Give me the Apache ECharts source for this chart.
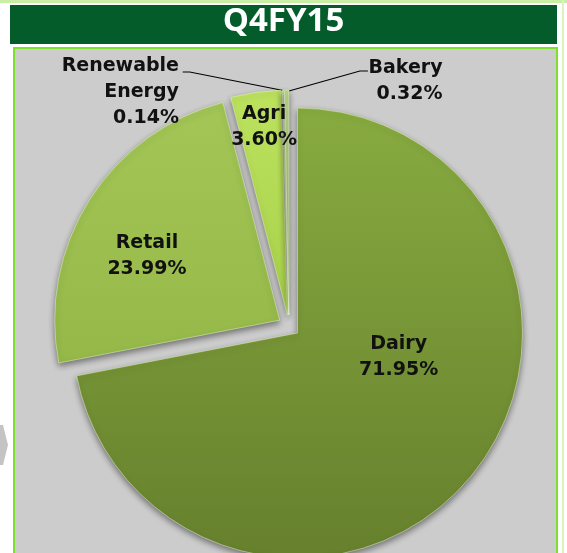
<!DOCTYPE html>
<html>
<head>
<meta charset="utf-8">
<script src="https://cdn.jsdelivr.net/npm/echarts@6/dist/echarts.min.js"></script>
<style>
  html, body { margin: 0; padding: 0; background: #ffffff; }
  #main { width: 567px; height: 553px; }
</style>
</head>
<body>
<div id="main"></div>
<script>
// segment shares, Q4FY15 (%)
const segments = ['Dairy', 'Retail', 'Agri', 'Renewable\nEnergy', 'Bakery']
const shares = [71.95, 23.99, 3.60, 0.14, 0.32]
const titleText = 'Q4FY15'

// slice colours (top -> bottom of gradient)
const sliceColors = [
  ['#88ab40', '#66802d'],
  ['#a3c656', '#95b849'],
  ['#bde35e', '#a8d04a'],
  ['#c4d8a0', '#9ab070'],
  ['#b8d48a', '#8fae5a']
]
// label nudges (px) from where the pie puts them, plus leader lines for the small ones
// (line points get moved with the exploded slice, so they sit 11px lower here)
const labelShift = [
  { dx: 12, dy: -49 },
  { dx: -35, dy: -3 },
  { dx: -7, dy: -74 },
  { dx: -89, dy: 12, line: [[286, 102], [190, 83], [183, 83]] },
  { dx: 171, dy: 1, line: [[289, 102], [360, 82], [368, 82]] }
]

const chart = echarts.init(document.getElementById('main'))

const pieData = segments.map((name, i) => ({
  name: name,
  value: shares[i],
  selected: true,
  itemStyle: {
    color: new echarts.graphic.LinearGradient(0, 0, 0, 1, [
      { offset: 0, color: sliceColors[i][0] },
      { offset: 1, color: sliceColors[i][1] }
    ])
  },
  label: i >= 3 ? { position: 'outside' } : { position: 'inner' },
  labelLine: { show: i >= 3 }
}))

const option = {
  animation: false,
  graphic: [
    { type: 'rect', z: -10, shape: { x: 0, y: 0, width: 567, height: 3 }, style: { fill: '#c9efa6' } },
    { type: 'rect', z: -10, shape: { x: 562, y: 0, width: 2, height: 553 }, style: { fill: '#d8f5bd' } },
    { type: 'rect', z: -10, shape: { x: 10, y: 5, width: 547, height: 39 }, style: { fill: '#035c2a' } },
    { type: 'rect', z: -10, shape: { x: 14, y: 48, width: 543, height: 520 }, style: { fill: '#cccccc', stroke: '#7fe02c', lineWidth: 2 } },
    { type: 'polygon', z: -10, shape: { points: [[0, 425], [3, 425], [8, 445], [3, 465], [0, 465]] }, style: { fill: '#c4c4c4' } },
    {
      type: 'text', z: 10, left: 'center', top: 5,
      style: { text: titleText, fill: '#ffffff', font: 'bold 33px "Open Sans", sans-serif' }
    }
  ],
  series: [
    {
      type: 'pie',
      center: [289, 326],
      radius: 225,
      startAngle: 90,
      clockwise: true,
      selectedMode: 'multiple',
      selectedOffset: 11,
      avoidLabelOverlap: false,
      emphasis: { disabled: true },
      itemStyle: {
        borderColor: 'rgba(230,245,200,0.5)',
        borderWidth: 1,
        shadowBlur: 6,
        shadowOffsetY: 3,
        shadowColor: 'rgba(0,0,0,0.45)'
      },
      label: {
        color: '#111111',
        fontFamily: '"DejaVu Sans", sans-serif',
        fontWeight: 'bold',
        fontSize: 19,
        lineHeight: 26,
        align: 'center',
        formatter: function (p) {
          return p.name + '\n' + p.value.toFixed(2) + '%'
        }
      },
      labelLine: {
        length: 10,
        length2: 10,
        lineStyle: { color: '#000000', width: 1.2 }
      },
      labelLayout: function (params) {
        const s = labelShift[params.dataIndex]
        const out = { dx: s.dx, dy: s.dy }
        if (s.line) out.labelLinePoints = s.line
        return out
      },
      data: pieData
    }
  ]
}

chart.setOption(option)
</script>
</body>
</html>
